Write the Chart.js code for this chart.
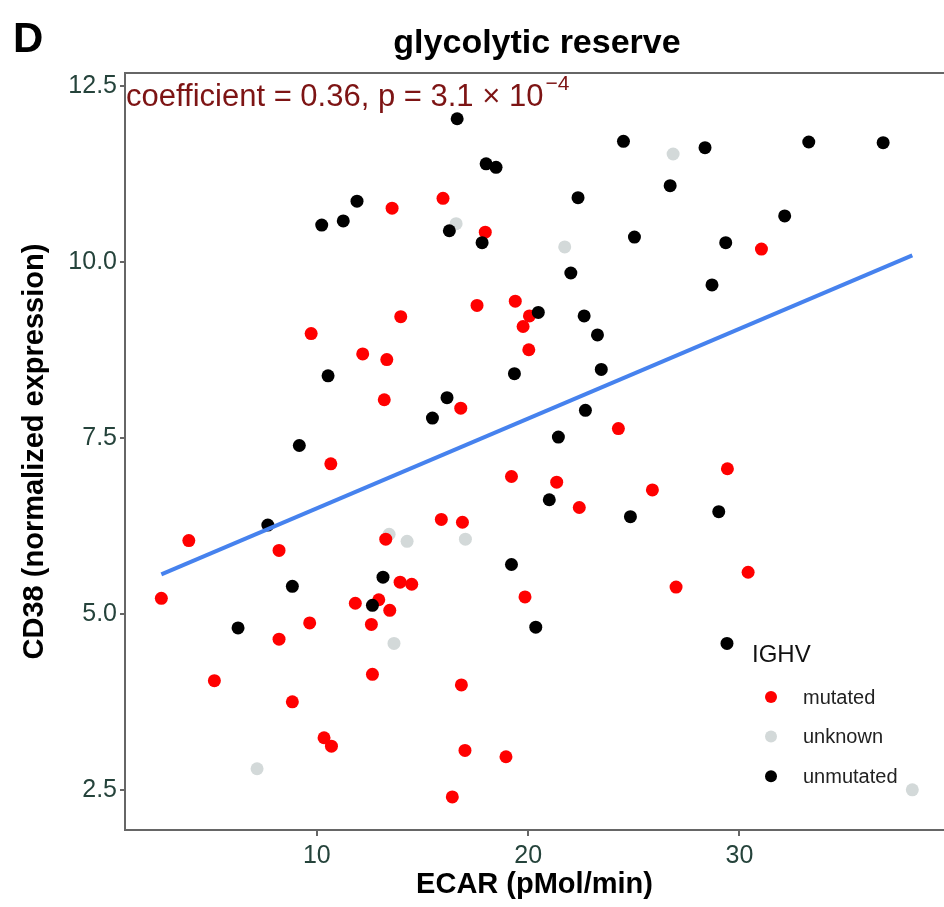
<!DOCTYPE html>
<html>
<head>
<meta charset="utf-8">
<title>glycolytic reserve</title>
<script src="https://cdn.jsdelivr.net/npm/chart.js@4.4.1/dist/chart.umd.min.js"></script>
<style>
  html, body { margin: 0; padding: 0; background: #ffffff; overflow: hidden; }
  canvas { display: block; }
</style>
</head>
<body>
<canvas id="cd38Chart" width="944" height="907"></canvas>
<script>
// [ECAR, CD38] per patient sample, split by IGHV status
const mutated = [
  [15.97, 10.90], [13.56, 10.76], [17.97, 10.42], [17.58, 9.38], [19.39, 9.44],
  [13.97, 9.22], [9.73, 8.98], [12.17, 8.69], [13.31, 8.61], [19.76, 9.08],
  [20.06, 9.23], [20.03, 8.75], [31.04, 10.18], [13.19, 8.04], [16.81, 7.92],
  [10.66, 7.13], [19.21, 6.95], [3.94, 6.04], [8.21, 5.90], [15.89, 6.34],
  [16.89, 6.30], [13.26, 6.06], [13.94, 5.45], [14.49, 5.42], [2.64, 5.22],
  [11.82, 5.15], [12.93, 5.20], [13.45, 5.05], [24.27, 7.63], [21.35, 6.87],
  [22.42, 6.51], [25.88, 6.76], [29.43, 7.06], [19.85, 5.24], [27.00, 5.38],
  [30.41, 5.59], [9.66, 4.87], [8.21, 4.64], [12.58, 4.85], [5.15, 4.05],
  [12.63, 4.14], [8.84, 3.75], [10.34, 3.24], [10.69, 3.12], [16.84, 3.99],
  [17.01, 3.06], [18.95, 2.97], [16.41, 2.40]
];
const unknown = [
  [16.59, 10.54], [26.86, 11.53], [21.73, 10.21], [13.42, 6.13], [14.27, 6.03],
  [17.03, 6.06], [13.65, 4.58], [7.17, 2.80], [38.18, 2.50]
];
const unmutated = [
  [16.64, 12.03], [18.01, 11.39], [18.48, 11.34], [11.90, 10.86], [11.25, 10.58],
  [10.23, 10.52], [16.27, 10.44], [17.82, 10.27], [24.51, 11.71], [28.37, 11.62],
  [33.28, 11.70], [36.80, 11.69], [26.72, 11.08], [22.36, 10.91], [32.14, 10.65],
  [25.03, 10.35], [29.35, 10.27], [22.02, 9.84], [28.70, 9.67], [20.48, 9.28],
  [22.65, 9.23], [23.28, 8.96], [10.53, 8.38], [16.16, 8.07], [15.47, 7.78],
  [19.35, 8.41], [9.17, 7.39], [7.68, 6.26], [19.21, 5.70], [13.13, 5.52],
  [8.84, 5.39], [12.63, 5.12], [23.46, 8.47], [22.71, 7.89], [21.43, 7.51],
  [21.00, 6.62], [24.84, 6.38], [29.02, 6.45], [6.27, 4.80], [20.36, 4.81],
  [29.41, 4.58]
];

// linear fit, ends of the ECAR range
const fitX = [2.64, 38.18];
const fitY = [5.56, 10.09];

const xTicks = [10, 20, 30];
const yTicks = [2.5, 5.0, 7.5, 10.0, 12.5];

const groupNames = ["mutated", "unknown", "unmutated"];

const color = {
  Red: "#ff0000",
  Grey: "#d3d9d9",
  Black: "#000000",
  Fit: "#4682ee",
  Axis: "#666666",
  Tick: "#25433b",
  Note: "#7d1414"
};
const groupColor = { mutated: color.Red, unknown: color.Grey, unmutated: color.Black };
const FONT = "'Liberation Sans', Arial, sans-serif";

Chart.defaults.font.family = FONT;

function toPoints(pairs) {
  return pairs.map(p => ({x: p[0], y: p[1]}));
}

function pointSet(name, pairs) {
  return {
    label: name,
    data: toPoints(pairs),
    pointRadius: 6.5,
    pointHoverRadius: 6.5,
    pointBackgroundColor: groupColor[name],
    pointBorderWidth: 0,
    showLine: false
  };
}

// text and decorations that sit outside the scales
const figureText = {
  id: "figureText",
  afterDraw(chart) {
    const ctx = chart.ctx;
    const area = chart.chartArea;
    ctx.save();

    ctx.strokeStyle = color.Axis;
    ctx.lineWidth = 2;
    ctx.beginPath();
    ctx.moveTo(area.left - 1, area.top);
    ctx.lineTo(area.right, area.top);
    ctx.stroke();

    ctx.fillStyle = "#000000";
    ctx.textBaseline = "alphabetic";
    ctx.textAlign = "left";
    ctx.font = "bold 42px " + FONT;
    ctx.fillText("D", 13, 52);

    ctx.textAlign = "center";
    ctx.font = "bold 34px " + FONT;
    ctx.fillText("glycolytic reserve", 537, 53);

    // correlation note, with a raised exponent
    ctx.textAlign = "left";
    ctx.fillStyle = color.Note;
    ctx.font = "31px " + FONT;
    const note = "coefficient = 0.36, p = 3.1 \u00d7 10";
    ctx.fillText(note, area.left + 1, 106);
    const w = ctx.measureText(note).width;
    ctx.font = "21px " + FONT;
    ctx.fillText("\u22124", area.left + 1 + w + 2, 90);

    // legend
    ctx.fillStyle = "#111111";
    ctx.font = "24px " + FONT;
    ctx.fillText("IGHV", 752, 662);
    ctx.font = "20px " + FONT;
    ctx.textBaseline = "middle";
    groupNames.forEach((name, i) => {
      const y = 697 + i * 39.6;
      ctx.fillStyle = groupColor[name];
      ctx.beginPath();
      ctx.arc(771, y, 6, 0, Math.PI * 2);
      ctx.fill();
      ctx.fillStyle = "#222222";
      ctx.fillText(name, 803, y + 1);
    });

    ctx.restore();
  }
};

const scatterData = {
  datasets: [
    {
      label: "fit",
      data: fitX.map((x, i) => ({x: x, y: fitY[i]})),
      showLine: true,
      borderColor: color.Fit,
      borderWidth: 4,
      pointRadius: 0,
      fill: false
    },
    pointSet("unmutated", unmutated),
    pointSet("mutated", mutated),
    pointSet("unknown", unknown)
  ]
};

const axisTitleFont = {family: FONT, size: 29, weight: "bold"};
const tickFont = {family: FONT, size: 25};

const scatterConfig = {
  type: "scatter",
  data: scatterData,
  options: {
    responsive: false,
    animation: false,
    layout: { autoPadding: false, padding: {top: 73, left: 0, right: 0, bottom: 0} },
    plugins: {
      legend: { display: false },
      tooltip: { enabled: false }
    },
    scales: {
      x: {
        type: "linear",
        min: 0.92,
        max: 39.68,
        afterBuildTicks: s => { s.ticks = xTicks.map(v => ({value: v})); },
        afterFit: s => { s.height = 77; },
        ticks: { color: color.Tick, font: tickFont, padding: 5, maxRotation: 0, callback: v => String(v) },
        grid: { drawOnChartArea: false, drawTicks: true, tickLength: 6, color: color.Axis, lineWidth: 2 },
        border: { display: true, color: color.Axis, width: 2 },
        title: { display: true, text: "ECAR (pMol/min)", color: "#000000", font: axisTitleFont, padding: {top: 0, bottom: 5} }
      },
      y: {
        type: "linear",
        min: 1.93,
        max: 12.68,
        afterBuildTicks: s => { s.ticks = yTicks.map(v => ({value: v})); },
        afterFit: s => { s.width = 125; },
        ticks: { color: color.Tick, font: tickFont, padding: 3, callback: v => v.toFixed(1) },
        grid: { drawOnChartArea: false, drawTicks: true, tickLength: 5, color: color.Axis, lineWidth: 2 },
        border: { display: true, color: color.Axis, width: 2 },
        title: { display: true, text: "CD38 (normalized expression)", color: "#000000", font: axisTitleFont, padding: {top: 18, bottom: 0} }
      }
    }
  },
  plugins: [figureText]
};

const cd38Chart = new Chart(document.getElementById("cd38Chart"), scatterConfig);
</script>
</body>
</html>
